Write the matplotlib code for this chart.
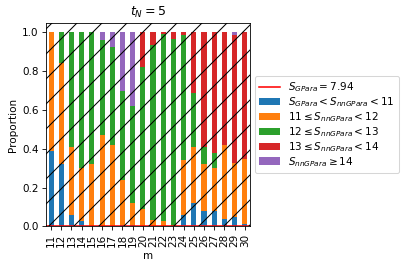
import pandas as pd
import matplotlib.pyplot as plt
from matplotlib.patches import Rectangle

m = list(range(11, 31))

# proportion of each S_nnGPara bin per m
blue = [0.39, 0.32, 0.06, 0.03, 0.00, 0.00, 0.00, 0.01, 0.01, 0.00,
        0.00, 0.00, 0.00, 0.06, 0.12, 0.08, 0.08, 0.04, 0.05, 0.013]
orange = [0.61, 0.52, 0.35, 0.27, 0.32, 0.47, 0.42, 0.23, 0.11, 0.09,
          0.033, 0.03, 0.00, 0.28, 0.29, 0.24, 0.22, 0.38, 0.277, 0.337]
green = [0.00, 0.16, 0.59, 0.70, 0.68, 0.49, 0.506, 0.46, 0.50, 0.73,
         0.902, 0.96, 0.967, 0.646, 0.277, 0.09, 0.078, 0.00, 0.00, 0.00]
red = [0.00, 0.00, 0.00, 0.00, 0.00, 0.00, 0.00, 0.00, 0.00, 0.18,
       0.065, 0.01, 0.033, 0.014, 0.313, 0.59, 0.622, 0.58, 0.658, 0.65]
purple = [0.00, 0.00, 0.00, 0.00, 0.00, 0.04, 0.074, 0.30, 0.38, 0.00,
          0.00, 0.00, 0.00, 0.00, 0.00, 0.00, 0.00, 0.00, 0.015, 0.00]

labels = [r'$S_{GPara} < S_{nnGPara} < 11$',
          r'$11 \leq S_{nnGPara} < 12$',
          r'$12 \leq S_{nnGPara} < 13$',
          r'$13 \leq S_{nnGPara} < 14$',
          r'$S_{nnGPara} \geq 14$']

df = pd.DataFrame(dict(zip(labels, [blue, orange, green, red, purple])),
                  index=pd.Index(m, name='m'))

fig = plt.figure(figsize=(407 / 75, 269 / 75), dpi=75)
ax = fig.add_axes([0.113, 0.158, 0.501, 0.758])

# reference line for S_GPara
ax.axhline(0, color='red', linewidth=1.5, label=r'$S_{GPara} = 7.94$')

df.plot(kind='bar', stacked=True, ax=ax)

# diagonal hatch over the whole axes
ax.add_patch(Rectangle((0, 0), 1, 1, transform=ax.transAxes, fill=False,
                       hatch='/', edgecolor='black', linewidth=0, zorder=3))

ax.set_ylabel('Proportion')
ax.set_xlabel('m')
ax.set_title(r'$t_N = 5$')
ax.legend(loc='center left', bbox_to_anchor=(1.0, 0.5), labelspacing=0.1)

plt.savefig('out.png', dpi=75)
